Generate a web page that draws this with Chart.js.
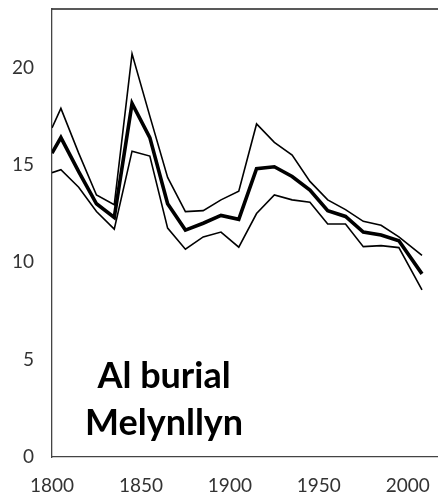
<!DOCTYPE html>
<html>
<head>
<meta charset="utf-8">
<script src="https://cdn.jsdelivr.net/npm/chart.js@4.4.0/dist/chart.umd.min.js"></script>
<style>
  html, body { margin: 0; padding: 0; background: #fff; }
  #wrap { width: 438px; height: 497px; }
</style>
</head>
<body>
<div id="wrap"><canvas id="myChart"></canvas></div>
<script>
// years (x) and the three curves
const years = [1800, 1805, 1815, 1825, 1835, 1845, 1855, 1865, 1875, 1885, 1895,
  1905, 1915, 1925, 1935, 1945, 1955, 1965, 1975, 1985, 1995, 2008];
const upperVals = [16.9, 17.9, 15.6, 13.45, 12.95, 20.7, 17.5, 14.35, 12.6, 12.65, 13.2,
  13.65, 17.1, 16.15, 15.5, 14.15, 13.2, 12.7, 12.1, 11.9, 11.3, 10.35];
const middleVals = [15.6, 16.4, 14.65, 13.0, 12.3, 18.15, 16.4, 13.0, 11.65, 12.0, 12.4,
  12.2, 14.8, 14.9, 14.4, 13.7, 12.65, 12.35, 11.55, 11.4, 11.1, 9.4];
const lowerVals = [14.6, 14.75, 13.85, 12.6, 11.7, 15.7, 15.45, 11.75, 10.67, 11.3, 11.55,
  10.77, 12.5, 13.45, 13.2, 13.08, 11.96, 11.96, 10.8, 10.85, 10.75, 8.58];

const xTicks = [1800, 1850, 1900, 1950, 2000];
const yTicks = [0, 5, 10, 15, 20];
const labelLines = ["Al burial", "Melynllyn"];

function toPoints(vals) {
  return years.map((y, i) => ({ x: y, y: vals[i] }));
}

const ctx = document.getElementById("myChart");

// draws the top frame line and the site label
const extras = {
  id: "extras",
  afterDraw(chart) {
    const c = chart.ctx;
    const a = chart.chartArea;
    c.save();
    c.strokeStyle = "#222";
    c.lineWidth = 1.5;
    c.beginPath();
    c.moveTo(a.left, a.top);
    c.lineTo(a.right, a.top);
    c.stroke();

    const xs = chart.scales.x, ys = chart.scales.y;
    c.fillStyle = "#000";
    c.font = "bold 36px Lato";
    c.textAlign = "center";
    c.textBaseline = "alphabetic";
    const cx = xs.getPixelForValue(1863);
    c.fillText(labelLines[0], cx, ys.getPixelForValue(3.55));
    c.fillText(labelLines[1], cx, ys.getPixelForValue(1.14));
    c.restore();
  }
};

const thin = { borderColor: "#000", borderWidth: 1.6, pointRadius: 0, tension: 0 };

new Chart(ctx, {
  type: "line",
  data: {
    datasets: [
      { ...thin, label: "upper", data: toPoints(upperVals) },
      { ...thin, label: "lower", data: toPoints(lowerVals) },
      { label: "middle", data: toPoints(middleVals), borderColor: "#000",
        borderWidth: 3.6, pointRadius: 0, tension: 0 },
    ],
  },
  options: {
    responsive: true,
    maintainAspectRatio: false,
    animation: false,
    layout: { padding: { top: 9, right: 0, left: 0, bottom: 0 } },
    plugins: { legend: { display: false }, tooltip: { enabled: false } },
    scales: {
      x: {
        type: "linear",
        min: 1800,
        max: 2017,
        grid: { display: false, drawOnChartArea: false, drawTicks: true, tickLength: 6, tickColor: "#444" },
        border: { display: true, color: "#444", width: 1.3 },
        afterBuildTicks: (s) => { s.ticks = xTicks.map(v => ({ value: v })); },
        afterFit: (s) => { s.height = 40; s.paddingRight = 0; },
        ticks: { color: "#333", font: { family: "Lato", size: 19 }, padding: 11, maxRotation: 0,
          callback: (v) => String(v) },
      },
      y: {
        min: 0,
        max: 23,
        grid: { display: false, drawOnChartArea: false, drawTicks: true, tickLength: 8, tickColor: "#444" },
        border: { display: true, color: "#444", width: 1.3 },
        afterBuildTicks: (s) => { s.ticks = yTicks.map(v => ({ value: v })); },
        afterFit: (s) => { s.width = 52; s.paddingTop = 0; s.paddingBottom = 0; },
        ticks: { color: "#333", font: { family: "Lato", size: 19 }, padding: 10 },
      },
    },
  },
  plugins: [extras],
});
</script>
</body>
</html>
